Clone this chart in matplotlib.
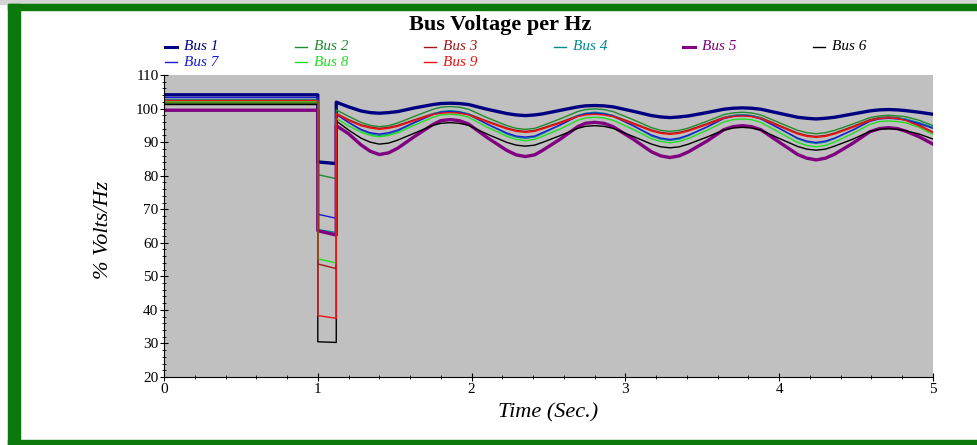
import matplotlib
matplotlib.use("Agg")
import matplotlib.pyplot as plt
from matplotlib.lines import Line2D
from matplotlib.patches import Rectangle
from matplotlib.ticker import MultipleLocator

# time axis (s): pre-fault, fault at 1.0 s, cleared at 1.12 s, then swing
t = [0.0, 1.0, 1.0, 1.12, 1.12,
     1.2, 1.28, 1.34, 1.40,
     1.46, 1.52, 1.63, 1.75, 1.80, 1.86,
     1.92, 1.98, 2.10, 2.23, 2.29, 2.35,
     2.41, 2.46, 2.58, 2.69, 2.74, 2.80,
     2.86, 2.92, 3.05, 3.17, 3.23, 3.29,
     3.35, 3.41, 3.53, 3.64, 3.70, 3.76,
     3.82, 3.88, 4.00, 4.12, 4.18, 4.24,
     4.30, 4.36, 4.48, 4.59, 4.65, 4.71,
     4.77, 4.82, 4.91, 5.0]

bus1 = [104.1, 104.1, 84.1, 83.6, 101.9,
        100.5, 99.3, 98.8, 98.6,
        98.8, 99.1, 100.2, 101.2, 101.5, 101.6,
        101.5, 101.2, 99.8, 98.5, 98.1, 97.9,
        98.1, 98.4, 99.5, 100.5, 100.8, 100.9,
        100.8, 100.5, 99.2, 97.9, 97.5, 97.3,
        97.5, 97.8, 98.8, 99.8, 100.1, 100.2,
        100.1, 99.8, 98.6, 97.4, 97.1, 96.9,
        97.1, 97.4, 98.4, 99.3, 99.6, 99.7,
        99.6, 99.4, 98.9, 98.3]
bus2 = [101.5, 101.5, 80.3, 79.1, 99.6,
        97.7, 95.9, 95.0, 94.6,
        94.9, 95.7, 97.7, 99.8, 100.4, 100.6,
        100.4, 99.8, 97.3, 94.9, 94.1, 93.8,
        94.1, 94.9, 97.0, 99.1, 99.7, 99.9,
        99.7, 99.1, 96.7, 94.3, 93.5, 93.2,
        93.5, 94.2, 96.2, 98.2, 98.7, 98.9,
        98.7, 98.1, 95.8, 93.5, 92.8, 92.5,
        92.8, 93.5, 95.4, 97.3, 97.8, 98.0,
        97.8, 97.6, 96.5, 94.9]
bus3 = [101.8, 101.8, 53.7, 52.3, 98.6,
        96.7, 95.2, 94.5, 94.1,
        94.4, 95.0, 96.7, 98.5, 98.9, 99.1,
        98.9, 98.4, 96.3, 94.2, 93.5, 93.2,
        93.5, 94.2, 96.0, 97.9, 98.4, 98.6,
        98.4, 97.9, 95.7, 93.6, 92.9, 92.6,
        92.9, 93.6, 95.5, 97.4, 97.9, 98.1,
        97.9, 97.3, 95.0, 92.7, 92.0, 91.7,
        92.0, 92.7, 94.7, 96.7, 97.3, 97.5,
        97.3, 96.8, 95.1, 93.0]
bus4 = [102.7, 102.7, 63.9, 63.1, 98.5,
        95.8, 93.6, 92.5, 92.0,
        92.4, 93.3, 95.8, 98.4, 99.1, 99.4,
        99.1, 98.4, 95.4, 92.4, 91.5, 91.1,
        91.5, 92.5, 95.2, 97.9, 98.6, 98.9,
        98.6, 97.9, 94.9, 91.8, 90.9, 90.5,
        90.9, 91.9, 94.5, 97.2, 97.9, 98.2,
        97.9, 97.2, 94.1, 91.0, 90.0, 89.6,
        90.0, 91.0, 93.7, 96.4, 97.1, 97.4,
        97.1, 96.9, 95.8, 94.4]
bus5 = [99.5, 99.5, 63.6, 62.3, 94.9,
        92.5, 89.2, 87.3, 86.3,
        86.8, 88.2, 91.7, 95.3, 96.4, 96.7,
        96.4, 95.4, 91.4, 87.5, 86.2, 85.7,
        86.2, 87.5, 91.0, 94.6, 95.6, 95.9,
        95.6, 94.6, 90.9, 87.1, 85.9, 85.4,
        85.9, 87.1, 90.3, 93.7, 94.6, 94.9,
        94.6, 93.7, 90.0, 86.3, 85.2, 84.7,
        85.2, 86.4, 89.7, 93.1, 94.0, 94.3,
        94.0, 93.3, 91.6, 89.4]
bus6 = [101.2, 101.2, 30.5, 30.3, 96.3,
        93.6, 91.2, 90.0, 89.4,
        89.7, 90.6, 92.7, 95.0, 95.6, 95.8,
        95.6, 95.0, 92.4, 89.9, 89.1, 88.8,
        89.1, 89.9, 92.0, 94.1, 94.7, 94.9,
        94.7, 94.1, 91.7, 89.4, 88.6, 88.3,
        88.6, 89.4, 91.5, 93.6, 94.2, 94.4,
        94.2, 93.6, 91.1, 88.7, 87.9, 87.6,
        87.9, 88.8, 90.9, 93.2, 93.8, 94.0,
        93.8, 93.4, 92.4, 90.9]
bus7 = [103.3, 103.3, 68.5, 67.3, 98.2,
        95.9, 93.8, 92.8, 92.4,
        92.8, 93.6, 95.9, 98.2, 98.9, 99.1,
        98.9, 98.2, 95.4, 92.7, 91.8, 91.5,
        91.8, 92.8, 95.2, 97.7, 98.4, 98.6,
        98.4, 97.7, 94.9, 92.1, 91.2, 90.8,
        91.2, 92.1, 94.5, 97.0, 97.7, 97.9,
        97.7, 96.9, 94.1, 91.2, 90.3, 89.9,
        90.3, 91.2, 93.6, 96.2, 96.9, 97.1,
        96.9, 96.6, 95.5, 94.1]
bus8 = [102.0, 102.0, 55.2, 54.0, 97.1,
        94.8, 93.0, 92.0, 91.6,
        92.0, 92.8, 95.1, 97.4, 98.1, 98.3,
        98.1, 97.4, 94.5, 91.7, 90.8, 90.4,
        90.8, 91.7, 94.0, 96.5, 97.2, 97.4,
        97.2, 96.5, 93.8, 91.0, 90.2, 89.8,
        90.2, 91.1, 93.5, 96.0, 96.7, 96.9,
        96.7, 95.9, 92.9, 89.9, 89.0, 88.6,
        89.0, 90.0, 92.6, 95.3, 96.1, 96.3,
        96.1, 95.8, 94.4, 92.3]
bus9 = [102.4, 102.4, 38.3, 37.5, 98.4,
        96.4, 94.9, 94.2, 93.8,
        94.1, 94.7, 96.4, 98.2, 98.6, 98.8,
        98.6, 98.1, 96.0, 93.9, 93.2, 92.9,
        93.2, 93.9, 95.7, 97.6, 98.1, 98.3,
        98.1, 97.6, 95.4, 93.3, 92.6, 92.3,
        92.6, 93.3, 95.2, 97.1, 97.6, 97.8,
        97.6, 97.0, 94.7, 92.4, 91.7, 91.4,
        91.7, 92.4, 94.4, 96.4, 97.0, 97.2,
        97.0, 96.5, 94.8, 92.8]

names = ["Bus 1", "Bus 2", "Bus 3", "Bus 4", "Bus 5", "Bus 6", "Bus 7", "Bus 8", "Bus 9"]
series = [bus1, bus2, bus3, bus4, bus5, bus6, bus7, bus8, bus9]
colors = ["#000080", "#1f8a2e", "#a01818", "#008b8b", "#800080", "#000000",
          "#1a1ad0", "#22dd22", "#ee1111"]
widths = [2.4, 1.0, 1.0, 1.0, 2.4, 1.0, 1.0, 1.0, 1.0]

W, H = 977, 445
plt.rcParams['font.family'] = ['Liberation Serif', 'DejaVu Serif']

fig = plt.figure(figsize=(W / 100, H / 100), dpi=100)
fig.patch.set_facecolor("white")

# green frame
green = "#0b780b"
fig.add_artist(Rectangle((0, 1 - 4 / H), 1, 4 / H, transform=fig.transFigure,
                         color="#d4d4d4", zorder=0))
fig.add_artist(Rectangle((8 / W, 1 - 10 / H), 1 - 8 / W, 6 / H, transform=fig.transFigure,
                         color=green, zorder=1))
fig.add_artist(Rectangle((8 / W, 0), 12 / W, 1 - 4 / H, transform=fig.transFigure,
                         color=green, zorder=1))
fig.add_artist(Rectangle((8 / W, 0), 1 - 8 / W, 5 / H, transform=fig.transFigure,
                         color=green, zorder=1))

ax = fig.add_axes([164 / W, 1 - 377 / H, (933 - 164) / W, (377 - 75) / H])
ax.set_facecolor("#c0c0c0")
for s, c, lw in zip(series, colors, widths):
    ax.plot(t, s, color=c, lw=lw, solid_joinstyle="round")

ax.set_xlim(0, 5)
ax.set_ylim(20, 110)
ax.xaxis.set_major_locator(MultipleLocator(1))
ax.xaxis.set_minor_locator(MultipleLocator(0.2))
ax.yaxis.set_major_locator(MultipleLocator(10))
ax.yaxis.set_minor_locator(MultipleLocator(2))
ax.tick_params(which="major", direction="inout", length=6, width=0.8, labelsize=11, pad=1)
ax.tick_params(which="minor", direction="inout", length=3, width=0.6)
ax.spines["top"].set_visible(False)
ax.spines["right"].set_visible(False)

fig.text(500 / W, 1 - 25 / H, "Bus Voltage per Hz", ha="center", va="center",
         fontsize=16, fontweight="bold")
fig.text(103 / W, 1 - 230 / H, "% Volts/Hz", ha="center", va="center",
         rotation=90, fontsize=16, style="italic")
fig.text(548 / W, 1 - 413 / H, "Time (Sec.)", ha="center", va="center",
         fontsize=16, style="italic")

# legend: 6 columns, filled row by row
for i, (name, c, lw) in enumerate(zip(names, colors, widths)):
    col, row = i % 6, i // 6
    x0 = (165 + col * 129.6) / W
    y0 = 1 - (47 + row * 15) / H
    fig.add_artist(Line2D([x0, x0 + 12 / W], [y0, y0], transform=fig.transFigure,
                          color=c, lw=2.2 if lw > 2 else 1.0))
    fig.text(x0 + 19 / W, y0, name, color=c, fontsize=11, style="italic",
             ha="left", va="center")

fig.savefig("out.png", dpi=100)
